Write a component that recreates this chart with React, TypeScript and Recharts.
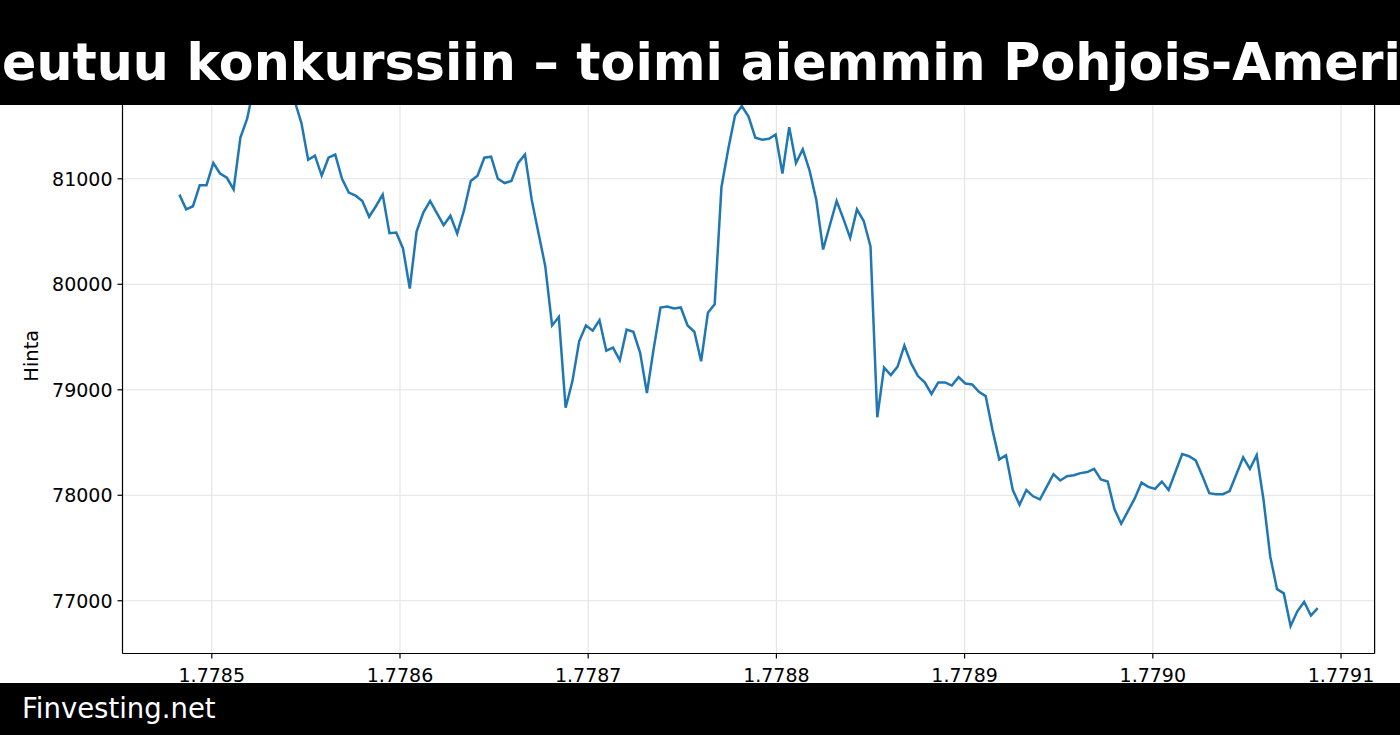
import React from 'react';
import { LineChart, Line, XAxis, YAxis, CartesianGrid, ReferenceLine, Label } from 'recharts';

// hourly samples, unix seconds
const START_TIME = 1778482800;
const STEP = 3600;

const prices: number[] = [
  80850, 80710, 80740, 80940, 80940, 81150, 81050, 81010, 80900, 81390,
  81570, 81880, 81960, 81980, 81920, 81900, 81830, 81740, 81530, 81180,
  81220, 81030, 81200, 81230, 81000, 80870, 80840, 80790, 80640, 80740,
  80850, 80485, 80490, 80340, 79960, 80500, 80680, 80790, 80675, 80560,
  80650, 80480, 80700, 80980, 81030, 81200, 81210, 81000, 80960, 80980,
  81150, 81230, 80800, 80485, 80170, 79610, 79690, 78830, 79080, 79460,
  79610, 79560, 79660, 79370, 79400, 79280, 79570, 79550, 79350, 78970,
  79390, 79780, 79790, 79770, 79780, 79610, 79550, 79270, 79730, 79810,
  80920, 81280, 81600, 81690, 81590, 81390, 81370, 81380, 81420, 81050,
  81490, 81150, 81280, 81080, 80800, 80330, 80560, 80790, 80620, 80440,
  80710, 80600, 80360, 78740, 79210, 79140, 79220, 79420, 79250, 79130,
  79070, 78960, 79070, 79070, 79040, 79120, 79060, 79050, 78980, 78940,
  78620, 78340, 78380, 78050, 77910, 78050, 77990, 77960, 78080, 78200,
  78140, 78180, 78190, 78210, 78220, 78250, 78150, 78130, 77870, 77730,
  77850, 77970, 78120, 78080, 78060, 78130, 78050, 78220, 78390, 78370,
  78330, 78180, 78020, 78010, 78010, 78040, 78200, 78360, 78250, 78380,
  77960, 77420, 77110, 77070, 76760, 76900, 76990, 76860, 76930,
];

const xTicks = [1778500000, 1778600000, 1778700000, 1778800000, 1778900000, 1779000000, 1779100000];
const yTicks = [77000, 78000, 79000, 80000, 81000];

const title = 'eutuu konkurssiin – toimi aiemmin Pohjois-Ameri';
const brand = 'Finvesting.net';
const yLabel = 'Hinta';

const X_DOMAIN: [number, number] = [1778452560, 1779117840];
const Y_DOMAIN: [number, number] = [76500, 82240];

const FONT = '"DejaVu Sans", sans-serif';

const chartData = prices.map((price, i) => ({ t: START_TIME + i * STEP, price }));

export default function App() {
  return (
    <div
      style={{
        position: 'absolute',
        left: 0,
        top: 0,
        width: 1400,
        height: 735,
        overflow: 'hidden',
        background: '#fff',
        fontFamily: FONT,
      }}
    >
      <LineChart
        width={1400}
        height={735}
        data={chartData}
        margin={{ top: 48, right: 25.4, bottom: 0, left: 0 }}
      >
        <CartesianGrid stroke="#e3e3e3" strokeWidth={1.1} />
        <XAxis
          dataKey="t"
          type="number"
          domain={X_DOMAIN}
          ticks={xTicks}
          allowDataOverflow
          tickFormatter={(v: number) => (v / 1e9).toFixed(4)}
          height={81.5}
          tickSize={5}
          tickMargin={10}
          stroke="#000"
          strokeWidth={1.2}
          tick={{ fill: '#000', fontSize: 19 }}
        />
        <YAxis
          type="number"
          domain={Y_DOMAIN}
          ticks={yTicks}
          allowDataOverflow
          width={122.5}
          tickSize={5}
          tickMargin={5}
          stroke="#000"
          strokeWidth={1.2}
          tick={{ fill: '#000', fontSize: 19 }}
        >
          <Label
            content={({ viewBox }: any) => (
              <text
                transform={`translate(38, ${viewBox.y + viewBox.height / 2 + 5}) rotate(-90)`}
                textAnchor="middle"
                fontSize={19.4}
                fill="#000"
              >
                {yLabel}
              </text>
            )}
          />
        </YAxis>
        <ReferenceLine x={X_DOMAIN[1]} stroke="#000" strokeWidth={1.2} />
        <Line
          type="linear"
          dataKey="price"
          stroke="#1f77b4"
          strokeWidth={2.5}
          dot={false}
          isAnimationActive={false}
        />
      </LineChart>

      <div style={{ position: 'absolute', left: 0, top: 0, width: 1400, height: 105, background: '#000' }}>
        <svg width={1400} height={105}>
          <text x={2} y={80} fill="#fff" fontSize={50.7} fontWeight="bold" fontFamily={FONT}>
            {title}
          </text>
        </svg>
      </div>

      <div style={{ position: 'absolute', left: 0, top: 683, width: 1400, height: 52, background: '#000' }}>
        <svg width={1400} height={52}>
          <text x={22} y={34.5} fill="#fff" fontSize={27.5} fontFamily={FONT}>
            {brand}
          </text>
        </svg>
      </div>
    </div>
  );
}
